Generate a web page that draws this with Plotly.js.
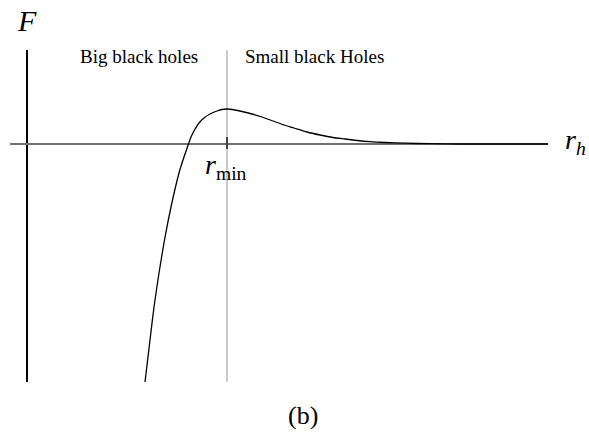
<!DOCTYPE html>
<html>
<head>
<meta charset="utf-8">
<script src="https://cdn.plot.ly/plotly-3.0.1.min.js"></script>
<style>
  html, body { margin: 0; padding: 0; background: #fff; }
  #gd { width: 589px; height: 433px; }
</style>
</head>
<body>
<div id="gd"></div>
<script>
// F(r_h) curve (arbitrary units)
var rh = [1.18, 1.23, 1.27, 1.32, 1.375, 1.44, 1.52, 1.56, 1.615, 1.64, 1.675, 1.72, 1.77,
          1.83, 1.90, 1.95, 2.00, 2.08, 2.15, 2.25, 2.35, 2.46, 2.57, 2.67, 2.80, 2.93,
          3.06, 3.18, 3.30, 3.43, 3.58, 3.78, 4.03, 4.33, 5.21];
var F = [-2.38, -1.96, -1.63, -1.29, -0.96, -0.63, -0.29, -0.16, 0, 0.07, 0.14, 0.21, 0.26,
         0.30, 0.33, 0.345, 0.35, 0.34, 0.325, 0.30, 0.27, 0.23, 0.19, 0.16, 0.12, 0.09,
         0.065, 0.05, 0.035, 0.023, 0.015, 0.008, 0.003, 0, 0];
var rMin = 2.0;

var serif = "Liberation Serif, Times New Roman, serif";

function label(x, y, text, size) {
  return {xref: "paper", yref: "paper", x: x, y: y, text: text, showarrow: false,
          xanchor: "center", yanchor: "middle",
          font: {family: serif, size: size, color: "#000"}};
}

var layout = {
  width: 589,
  height: 433,
  margin: {l: 10, r: 41, t: 50, b: 51},
  paper_bgcolor: "#fff",
  plot_bgcolor: "#fff",
  showlegend: false,
  xaxis: {
    range: [-0.17, 5.21],
    showgrid: false,
    showticklabels: false,
    ticks: "",
    zeroline: true,
    zerolinecolor: "#000",
    zerolinewidth: 2
  },
  yaxis: {
    range: [-2.38, 0.94],
    showgrid: false,
    showticklabels: false,
    ticks: "",
    zeroline: true,
    zerolinecolor: "#707070",
    zerolinewidth: 2
  },
  shapes: [
    {type: "line", xref: "x", yref: "paper", x0: rMin, x1: rMin, y0: 0, y1: 1,
     line: {color: "#b8b8b8", width: 1.5}, layer: "below"},
    {type: "line", xref: "x", yref: "y", x0: rMin, x1: rMin, y0: -0.05, y1: 0.07,
     line: {color: "#444", width: 2}}
  ],
  annotations: [
    label(0.032, 1.09, "<i>F</i>", 30),
    label(0.2398, 0.979, "Big black holes", 19),
    label(0.566, 0.979, "Small black Holes", 19),
    label(1.052, 0.723, "<i>r</i><sub><i>h</i></sub>", 28),
    label(0.4024, 0.6476, "<i>r</i><sub>min</sub>", 28),
    label(0.5446, -0.0994, "(b)", 26)
  ]
};

var config = {staticPlot: true, displayModeBar: false};

Plotly.newPlot("gd", [
  {
    type: "scatter",
    mode: "lines",
    x: rh,
    y: F,
    line: {color: "#000", width: 1.3, shape: "spline", smoothing: 0.6},
    cliponaxis: true
  }
], layout, config);
</script>
</body>
</html>
